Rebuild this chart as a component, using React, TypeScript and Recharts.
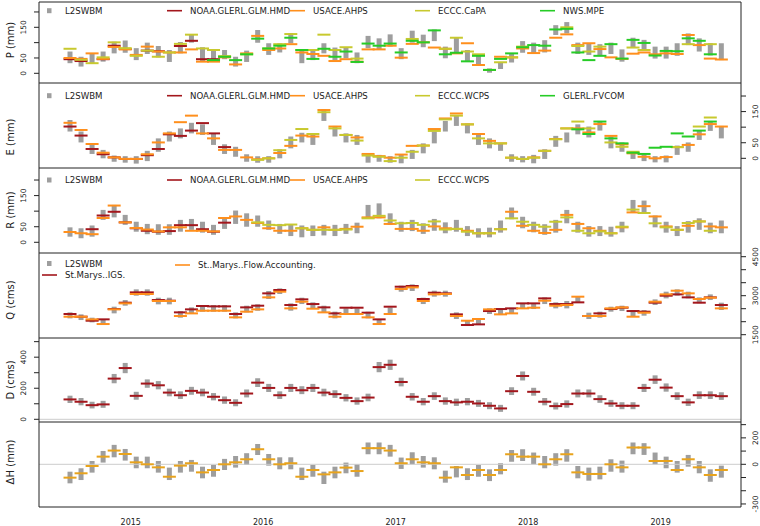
import React from "react";
import { ComposedChart, Bar, Scatter, XAxis, YAxis, ReferenceLine, Legend } from "recharts";

const W = 760;
const H = 526;
const FONT = "DejaVu Sans, sans-serif";
const INK = "#222";

// month index: 0 = Jul 2014 ... 59 = Jun 2019 (mid-month)
const monthIdx = Array.from({ length: 60 }, (_, k) => k);
const X0 = -2.81;
const X1 = 60.78;
const halfYearTicks = [-0.5, 5.5, 11.5, 17.5, 23.5, 29.5, 35.5, 41.5, 47.5, 53.5, 59.5];
const yearTicks = [5.5, 17.5, 29.5, 41.5, 53.5];
const yearLabels = ["2015", "2016", "2017", "2018", "2019"];

const _ = null;

// ---- P (mm)
const pLo = [33,22,33,38,65,67,43,63,52,37,65,100,38,38,46,22,37,100,60,68,98,33,43,65,43,49,33,82,76,87,46,100,85,105,49,67,38,27,2,14,35,67,63,68,125,130,63,60,57,63,38,84,76,48,48,57,92,71,58,43];
const pHi = [71,54,65,71,103,107,82,100,89,76,102,127,85,76,76,54,74,141,98,98,130,76,76,98,84,85,68,122,114,127,82,139,126,143,87,116,76,60,16,36,65,105,100,108,157,167,100,98,95,100,78,116,109,87,87,98,130,114,98,98];
const pNoaa = [46,40,_,46,90,79,_,74,72,_,89,106,46,46,_,_,_,_,_,_,_,_,_,_,_,_,_,_,_,_,_,_,_,_,_,_,_,_,_,_,_,_,_,_,_,_,_,_,_,_,_,_,_,_,_,_,_,_,_,_];
const pUsace = [50,47,65,47,86,78,60,87,71,68,68,78,38,38,52,29,65,122,76,81,95,68,63,57,40,46,38,78,78,90,51,96,101,84,80,65,98,27,11,54,52,81,66,74,116,127,92,98,79,52,47,64,68,62,65,63,125,92,48,45];
const pCapa = [80,44,33,52,101,82,57,74,54,68,96,126,81,76,56,_,62,_,81,95,128,76,76,126,76,85,48,_,_,_,_,112,_,_,80,116,71,62,_,36,52,87,_,_,_,150,89,71,87,_,_,84,76,_,_,_,95,_,95,_];
const pMpe = [_,_,_,_,_,_,_,_,_,_,_,_,_,43,54,43,62,113,81,90,116,76,47,80,54,71,37,97,90,97,68,106,101,140,62,67,39,57,11,47,65,85,92,90,143,145,68,43,57,95,48,109,99,58,73,72,114,106,62,_];

// ---- E (mm)
const eLo = [86,51,14,0,-11,-14,-17,-9,21,54,64,80,75,43,14,5,-11,-14,-14,0,32,51,43,120,70,51,43,-14,-11,-14,-16,-2,16,48,86,104,80,43,32,24,-11,-13,-16,-2,37,51,77,67,89,32,21,-2,-9,-13,-13,11,21,59,88,64];
const eHi = [123,86,48,27,9,7,7,24,64,86,96,114,109,80,45,37,13,7,7,29,70,82,75,158,104,80,75,16,11,7,13,27,48,86,120,136,112,80,64,48,13,7,11,29,72,83,109,102,120,70,51,21,11,7,9,41,51,89,120,104];
const eNoaa = [102,73,30,13,3,-2,-2,10,30,77,72,89,113,80,36,_,_,_,_,_,_,_,_,_,_,_,_,_,_,_,_,_,_,_,_,_,_,_,_,_,_,_,_,_,_,_,_,_,_,_,_,_,_,_,_,_,_,_,_,_];
const eUsace = [114,91,46,18,3,-2,-2,13,51,80,116,137,80,64,27,27,3,-3,0,17,40,73,70,155,102,75,67,14,7,2,12,40,41,94,128,144,109,78,56,48,2,-2,3,24,62,96,96,83,110,72,45,16,5,0,4,36,43,77,110,102];
const eWcps = [_,_,_,_,_,_,_,_,_,_,_,_,_,_,_,_,_,-5,0,26,59,94,78,148,96,75,57,9,5,-9,2,21,41,88,125,137,109,64,48,48,2,-2,2,24,61,96,118,96,_,51,37,21,_,_,_,36,_,102,131,_];
const eFvcom = [_,_,_,_,_,_,_,_,_,_,_,_,_,_,_,_,_,_,_,_,_,_,_,_,_,_,_,_,_,_,_,_,_,_,_,_,_,_,_,_,_,_,_,_,_,_,93,78,118,64,48,18,14,34,37,80,70,89,118,_];

// ---- R (mm)
const rLo = [18,13,18,72,80,56,34,26,24,24,34,40,31,24,43,59,50,50,40,27,20,16,20,22,20,27,29,77,77,56,34,36,27,37,29,34,20,15,16,31,74,45,32,24,31,61,31,18,20,18,32,95,91,48,31,20,31,40,29,29];
const rHi = [48,45,54,104,120,88,66,59,58,58,72,75,66,56,79,102,93,86,70,59,56,54,54,56,56,59,63,120,125,93,66,72,61,75,64,72,52,45,47,70,112,82,66,58,72,104,66,52,52,50,66,136,134,86,66,52,68,77,63,70];
const rNoaa = [_,_,42,86,98,64,45,37,34,36,55,55,42,34,63,_,_,_,_,_,_,_,_,_,_,_,_,_,_,_,_,_,_,_,_,_,_,_,_,_,_,_,_,_,_,_,_,_,_,_,_,_,_,_,_,_,_,_,_,_];
const rUsace = [33,29,26,78,118,64,46,41,35,48,48,37,37,35,78,83,72,62,45,37,37,45,40,48,40,43,50,80,80,59,43,43,37,51,45,43,37,29,29,42,98,53,37,30,40,88,59,45,37,29,48,96,116,83,51,40,53,67,51,48];
const rWcps = [_,_,_,_,_,_,_,_,_,_,_,_,_,_,_,_,_,64,56,55,57,45,40,40,40,41,_,77,85,70,61,62,56,67,41,43,34,29,29,42,77,66,56,50,66,80,37,29,35,29,50,105,94,61,48,40,62,67,37,_];

// ---- Q (cms)
const qLo = [2128,2064,1974,1872,2321,2615,3000,3000,2667,2667,2154,2295,2385,2385,2385,2128,2359,2423,2872,3064,2423,2679,2487,2359,2128,2282,2282,2128,1872,2282,3154,3180,2679,2962,2962,2103,1833,1872,2295,2256,2295,2487,2487,2679,2513,2513,2744,2103,2154,2385,2410,2192,2231,2641,2897,3000,2897,2705,2833,2449];
const qHi = [2359,2282,2154,2064,2577,2833,3244,3244,2923,2923,2410,2551,2641,2641,2641,2359,2615,2667,3180,3282,2705,2923,2744,2615,2385,2513,2513,2385,2090,2551,3385,3436,2923,3192,3192,2359,2064,2103,2513,2487,2538,2705,2705,2936,2744,2795,2987,2346,2385,2577,2615,2449,2449,2859,3154,3244,3154,2936,3051,2731];
const qIgs = [2295,2192,2038,2090,2487,2731,3128,3128,2833,2808,2359,2474,2603,2590,2590,2295,2551,2615,3090,3218,2641,2859,2679,2551,2320,2538,2538,2346,2090,2577,3346,3372,2872,3115,3090,2282,1872,1897,2410,2487,2513,2705,2705,2897,2679,2679,2744,2218,2320,2487,2538,2410,2385,2731,3000,3051,2936,2731,2936,2641];
const qFlow = [2192,2192,2090,1910,2474,2705,3064,3064,2795,2795,2218,2320,2423,2423,2423,2167,2385,2474,2936,3154,2513,2769,2500,2359,2192,2295,2295,2167,1910,2295,3256,3320,2795,3051,3064,2218,2038,2103,2474,2282,2320,2513,2538,2808,2615,2641,2962,2218,2218,2513,2551,2192,2346,2769,3051,3192,3090,2872,2923,2513];

// ---- D (cms)
const dLo = [105,90,70,74,232,297,126,203,193,148,131,158,148,122,100,84,141,208,176,131,176,162,176,148,138,115,94,116,303,318,212,121,90,125,94,86,90,80,65,48,156,250,152,90,63,75,141,141,106,80,65,65,176,228,178,125,86,131,131,125];
const dHi = [152,137,113,119,292,363,177,257,246,197,180,209,197,169,147,129,192,264,228,180,228,213,228,197,187,162,141,165,369,384,268,169,137,174,141,133,137,125,110,93,207,308,203,137,108,122,192,192,155,125,110,110,228,283,231,174,133,180,180,174];
const dIgs = [128,113,91,96,262,330,151,230,219,172,155,183,172,145,123,106,166,236,202,155,202,187,202,172,162,138,117,140,336,351,240,145,113,149,117,109,113,102,87,70,181,279,177,113,85,98,166,166,130,102,87,87,202,255,204,149,109,155,155,149];

// ---- dH (mm)
const hLo = [-144,-119,-63,13,53,28,-30,-30,-63,-119,-63,-56,-106,-94,-43,-25,-5,71,-10,-38,-38,-119,-94,-149,-106,-68,-94,76,76,58,-35,0,-25,-38,-139,-99,-119,-94,-127,-76,20,25,0,-30,-10,20,-106,-124,-114,-56,-63,76,71,0,-30,-63,-18,-68,-132,-101];
const hHi = [-56,-30,25,101,147,116,58,58,25,-25,25,33,-18,-5,41,63,84,154,78,53,53,-25,-5,-56,-18,13,0,165,165,147,51,91,63,53,-48,-13,-30,-5,-38,8,109,114,89,63,84,114,-13,-25,-18,38,28,165,160,89,58,25,71,25,-38,-10];
const hObs = [-101,-68,-13,58,104,78,15,0,-23,-94,-10,8,-61,-43,0,15,38,114,38,0,8,-94,-43,-76,-61,-25,-51,122,122,104,8,38,15,8,-101,-23,-81,-43,-81,-43,76,58,58,0,38,76,-61,-73,-73,0,-23,127,127,25,25,-43,38,-23,-81,-43];

const GRAY = "#9e9e9e";
const RED = "#a3161c";
const ORANGE = "#ff8f1c";
const YELLOW = "#c8c92e";
const GREEN = "#26cc26";
const GOLD = "#e8a31c";

type Series = { key: string; color: string; values: (number | null)[] };
type LegendItem = { label: string; kind: "box" | "line"; color: string; x: number; y: number };

const dash = (color: string) => (props: any) => {
  const { cx, cy } = props;
  if (cx == null || cy == null || Number.isNaN(cy)) return <g />;
  return <line x1={cx - 6.5} x2={cx + 6.5} y1={cy} y2={cy} stroke={color} strokeWidth={2} />;
};

const yTick = (side: "left" | "right", labels: number[]) => (props: any) => {
  const { y, payload } = props;
  if (!labels.includes(payload.value)) return <g />;
  const x = side === "left" ? 24 : 756;
  return (
    <text x={x} y={y} transform={`rotate(-90 ${x} ${y})`} textAnchor="middle" dominantBaseline="central"
      fontSize={7.5} fontFamily={FONT} fill={INK}>
      {payload.value}
    </text>
  );
};

const YTitle = ({ text, cy }: { text: string; cy: number }) => (
  <text x={10} y={cy} transform={`rotate(-90 10 ${cy})`} textAnchor="middle" dominantBaseline="central"
    fontSize={10} fontFamily={FONT} fill={INK}>
    {text}
  </text>
);

const legendBox = (items: LegendItem[]) => () => (
  <svg width={W} height={H} style={{ display: "block" }}>
    {items.map((it) => (
      <g key={it.label}>
        {it.kind === "box" ? (
          <rect x={it.x + 5} y={it.y - 2.5} width={4.5} height={5} fill={it.color} />
        ) : (
          <line x1={it.x} x2={it.x + 15} y1={it.y} y2={it.y} stroke={it.color} strokeWidth={1.6} />
        )}
        <text x={it.x + 23} y={it.y} dominantBaseline="central" fontSize={8.6} fontFamily={FONT} fill={INK}>
          {it.label}
        </text>
      </g>
    ))}
  </svg>
);

const cols = [42, 167, 290, 415, 540];
const row = (y: number, labels: [string, "box" | "line", string][]) =>
  labels.map(([label, kind, color], k) => ({ label, kind, color, x: cols[k], y }));

type PanelProps = {
  top: number;
  bottom: number;
  domain: [number, number];
  ticks: number[];
  labels: number[];
  side: "left" | "right";
  title: string;
  titleY: number;
  lo: number[];
  hi: number[];
  series: Series[];
  legend?: LegendItem[];
  zero?: boolean;
  first?: boolean;
  last?: boolean;
};

function Panel(p: PanelProps) {
  const xh = p.last ? 19 : 20;
  const rows = monthIdx.map((i) => {
    const r: any = { i, range: [p.lo[i], p.hi[i]] };
    p.series.forEach((s) => (r[s.key] = s.values[i]));
    return r;
  });
  return (
    <div style={{ position: "absolute", left: 0, top: 0 }}>
      <ComposedChart width={W} height={H} data={rows}
        margin={{ top: p.top, bottom: H - p.bottom - xh, left: 0, right: 0 }}>
        <XAxis type="number" dataKey="i" domain={[X0, X1]} allowDataOverflow
          ticks={p.last ? yearTicks : halfYearTicks} interval={0} height={xh}
          axisLine={{ stroke: INK }} tickLine={p.last ? false : { stroke: INK }} tickSize={5}
          tick={p.last ? (t: any) => (
            <text x={t.x} y={522} textAnchor="middle" dominantBaseline="central" fontSize={8} fontFamily={FONT} fill={INK}>
              {yearLabels[yearTicks.indexOf(t.payload.value)]}
            </text>
          ) : false} />
        <YAxis yAxisId="l" type="number" domain={p.domain} allowDataOverflow ticks={p.ticks} interval={0}
          width={39} tickSize={5} axisLine={{ stroke: INK }} tickLine={{ stroke: INK }}
          tick={p.side === "left" ? yTick("left", p.labels) : false}
          label={<YTitle text={p.title} cy={p.titleY} />} />
        <YAxis yAxisId="r" orientation="right" type="number" domain={p.domain} allowDataOverflow ticks={p.ticks}
          interval={0} width={19} tickSize={5} axisLine={{ stroke: INK }} tickLine={{ stroke: INK }}
          tick={p.side === "right" ? yTick("right", p.labels) : false} />
        {p.first && <ReferenceLine yAxisId="l" y={p.domain[1]} stroke={INK} />}
        {p.zero && <ReferenceLine yAxisId="l" y={0} stroke="#cccccc" />}
        <Bar yAxisId="l" dataKey="range" fill={GRAY} barSize={5} isAnimationActive={false} />
        {p.series.map((s) => (
          <Scatter key={s.key} yAxisId="l" dataKey={s.key} data={rows.filter((r) => r[s.key] != null)}
            shape={dash(s.color)} isAnimationActive={false} />
        ))}
        {p.legend && (
          <Legend layout="vertical" align="center" verticalAlign="middle"
            wrapperStyle={{ left: 0, top: 0, width: W, height: H, pointerEvents: "none" }}
            content={legendBox(p.legend)} />
        )}
      </ComposedChart>
    </div>
  );
}

export default function App() {
  return (
    <div style={{ position: "absolute", left: 0, top: 0, width: W, height: H, background: "#fff" }}>
      <Panel top={2} bottom={83} domain={[-31.6, 232.5]} ticks={[0, 50, 100, 150, 200]} labels={[0, 50, 150]}
        side="left" title="P (mm)" titleY={40} lo={pLo} hi={pHi} first
        series={[
          { key: "noaa", color: RED, values: pNoaa },
          { key: "usace", color: ORANGE, values: pUsace },
          { key: "capa", color: YELLOW, values: pCapa },
          { key: "mpe", color: GREEN, values: pMpe },
        ]}
        legend={row(10.7, [
          ["L2SWBM", "box", GRAY],
          ["NOAA.GLERL.GLM.HMD", "line", RED],
          ["USACE.AHPS", "line", ORANGE],
          ["ECCC.CaPA", "line", YELLOW],
          ["NWS.MPE", "line", GREEN],
        ])} />
      <Panel top={83} bottom={168} domain={[-31.1, 241.8]} ticks={[0, 50, 100, 150, 200]} labels={[0, 50, 150]}
        side="right" title="E (mm)" titleY={137} lo={eLo} hi={eHi}
        series={[
          { key: "noaa", color: RED, values: eNoaa },
          { key: "usace", color: ORANGE, values: eUsace },
          { key: "wcps", color: YELLOW, values: eWcps },
          { key: "fvcom", color: GREEN, values: eFvcom },
        ]}
        legend={row(95.7, [
          ["L2SWBM", "box", GRAY],
          ["NOAA.GLERL.GLM.HMD", "line", RED],
          ["USACE.AHPS", "line", ORANGE],
          ["ECCC.WCPS", "line", YELLOW],
          ["GLERL.FVCOM", "line", GREEN],
        ])} />
      <Panel top={168} bottom={253} domain={[-34.4, 238.6]} ticks={[0, 50, 100, 150, 200]} labels={[0, 50, 150]}
        side="left" title="R (mm)" titleY={210} lo={rLo} hi={rHi}
        series={[
          { key: "noaa", color: RED, values: rNoaa },
          { key: "usace", color: ORANGE, values: rUsace },
          { key: "wcps", color: YELLOW, values: rWcps },
        ]}
        legend={row(180, [
          ["L2SWBM", "box", GRAY],
          ["NOAA.GLERL.GLM.HMD", "line", RED],
          ["USACE.AHPS", "line", ORANGE],
          ["ECCC.WCPS", "line", YELLOW],
        ])} />
      <Panel top={253} bottom={338} domain={[1373, 4642]} ticks={[1500, 2000, 2500, 3000, 3500, 4000, 4500]}
        labels={[1500, 3000, 4500]} side="right" title="Q (cms)" titleY={300} lo={qLo} hi={qHi}
        series={[
          { key: "igs", color: RED, values: qIgs },
          { key: "flow", color: ORANGE, values: qFlow },
        ]}
        legend={[
          { label: "L2SWBM", kind: "box", color: GRAY, x: 42, y: 263.5 },
          { label: "St.Marys..IGS.", kind: "line", color: RED, x: 42, y: 275 },
          { label: "St..Marys..Flow.Accounting.", kind: "line", color: ORANGE, x: 175, y: 265 },
        ]} />
      <Panel top={338} bottom={422} domain={[-17.4, 523.5]} ticks={[0, 100, 200, 300, 400, 500]} labels={[0, 200, 400]}
        side="left" title="D (cms)" titleY={380} lo={dLo} hi={dHi} zero
        series={[{ key: "igs", color: RED, values: dIgs }]} />
      <Panel top={422} bottom={507} domain={[-323, 320]} ticks={[-300, -200, -100, 0, 100, 200, 300]}
        labels={[-300, 0, 200]} side="right" title="ΔH (mm)" titleY={462} lo={hLo} hi={hHi} zero last
        series={[{ key: "obs", color: GOLD, values: hObs }]} />
    </div>
  );
}
